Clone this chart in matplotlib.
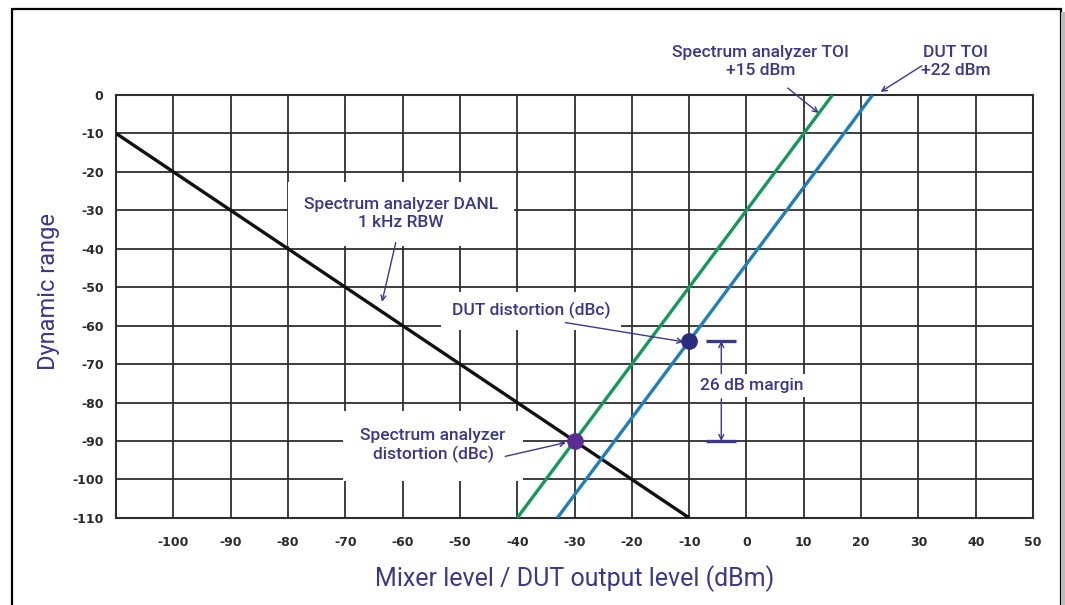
import matplotlib
matplotlib.use("Agg")
import matplotlib.pyplot as plt
from matplotlib.patches import Rectangle

# ---- data ----
x_ticks = [-100, -90, -80, -70, -60, -50, -40, -30, -20, -10, 0, 10, 20, 30, 40, 50]
y_ticks = [0, -10, -20, -30, -40, -50, -60, -70, -80, -90, -100, -110]

danl_x = [-110, -10]
danl_y = [-10, -110]
sa_toi_x = [-40, 15]
sa_toi_y = [-110, 0]
dut_toi_x = [-33, 22]
dut_toi_y = [-110, 0]
sa_dist_pt = (-30, -90)
dut_dist_pt = (-10, -64)
margin_levels = [-64, -90]

NAVY = "#3b3889"
NARROW = ["Roboto", "DejaVu Sans"]

fig = plt.figure(figsize=(10.65, 6.05), dpi=100)
ax = fig.add_axes([0.109, 0.144, 0.861, 0.699])

ax.set_xlim(-110, 50)
ax.set_ylim(-110, 0)
ax.set_xticks(x_ticks)
ax.set_yticks(y_ticks)
ax.set_xticklabels([str(v) for v in x_ticks])
ax.set_yticklabels([str(v) for v in y_ticks])
ax.tick_params(length=0, labelsize=9, labelcolor="#2a2a2a")
ax.tick_params(axis="x", pad=13)
ax.tick_params(axis="y", pad=9)
for lab in ax.get_xticklabels() + ax.get_yticklabels():
    lab.set_fontweight("bold")
ax.grid(True, color="#2e2e2e", lw=1.3)
ax.set_axisbelow(True)
for s in ax.spines.values():
    s.set_color("#2e2e2e")
    s.set_linewidth(1.5)

ax.plot(danl_x, danl_y, color="#111111", lw=2.4, zorder=4, solid_capstyle="butt")
ax.plot(sa_toi_x, sa_toi_y, color="#14995a", lw=2.4, zorder=4, solid_capstyle="butt")
ax.plot(dut_toi_x, dut_toi_y, color="#1f7fb8", lw=2.4, zorder=4, solid_capstyle="butt")

ax.plot(*sa_dist_pt, "o", color="#5a2c93", ms=11, zorder=5, clip_on=False)
ax.plot(*dut_dist_pt, "o", color="#2c2b80", ms=11, zorder=5, clip_on=False)

arr = dict(arrowstyle="->", color=NAVY, lw=1.0, mutation_scale=9, shrinkA=0, shrinkB=0)
tkw = dict(color=NAVY, fontsize=12.5, family=NARROW, fontweight="medium", ha="center",
           va="center", linespacing=1.25, annotation_clip=False)

ax.annotate("Spectrum analyzer TOI\n+15 dBm", xy=(2.4, 8.8), **tkw)
ax.annotate("", xy=(12.6, -4.7), xytext=(7.2, 1.8), arrowprops=arr, annotation_clip=False)
ax.annotate("DUT TOI\n+22 dBm", xy=(36.5, 8.8), **tkw)
ax.annotate("", xy=(23.4, 0.8), xytext=(30.6, 7.6), arrowprops=arr, annotation_clip=False)

ax.annotate("Spectrum analyzer DANL\n1 kHz RBW", xy=(-60.3, -30.9),
            bbox=dict(boxstyle="square,pad=0.9", fc="white", ec="none"), zorder=3, **tkw)
ax.annotate("", xy=(-63.6, -53.8), xytext=(-61.2, -38.4), arrowprops=arr)

ax.annotate("DUT distortion (dBc)", xy=(-37.6, -56.1),
            bbox=dict(boxstyle="square,pad=0.6", fc="white", ec="none"), zorder=3, **tkw)
ax.annotate("", xy=(-11, -64.2), xytext=(-31.6, -59.2), arrowprops=arr, zorder=4.5)

ax.annotate("Spectrum analyzer\ndistortion (dBc)", xy=(-54.7, -91.2),
            bbox=dict(boxstyle="square,pad=1.0", fc="white", ec="none"), zorder=3, **tkw)
ax.annotate("", xy=(-31.5, -90.4), xytext=(-42.1, -94), arrowprops=arr, zorder=4.5)

# margin marker
for lv in margin_levels:
    ax.plot([-7, -1.8], [lv, lv], color=NAVY, lw=2.4, zorder=4, solid_capstyle="butt")
ax.text(1.0, -75.6, "26 dB margin", color=NAVY, fontsize=12.5, family=NARROW,
        fontweight="medium", ha="center", va="center", zorder=3,
        bbox=dict(boxstyle="square,pad=0.25", fc="white", ec="none"))
ax.annotate("", xy=(-4.4, margin_levels[0]), xytext=(-4.4, -72.5), arrowprops=arr, zorder=4)
ax.annotate("", xy=(-4.4, margin_levels[1]), xytext=(-4.4, -79), arrowprops=arr, zorder=4)

ax.set_xlabel("Mixer level / DUT output level (dBm)", color=NAVY, fontsize=18,
              family=NARROW, labelpad=12)
ax.set_ylabel("Dynamic range", color=NAVY, fontsize=17, family=NARROW)
ax.yaxis.set_label_coords(-0.061, 0.535)

# outer frame
fig.patches.append(Rectangle((0.0113, -0.02), 0.985, 1.005, transform=fig.transFigure,
                             fill=False, ec="black", lw=1.6))
fig.patches.append(Rectangle((0.9965, -0.02), 0.004, 1.0, transform=fig.transFigure,
                             fill=True, fc="#bbbbbb", ec="none"))

fig.savefig("out.png", dpi=100)
